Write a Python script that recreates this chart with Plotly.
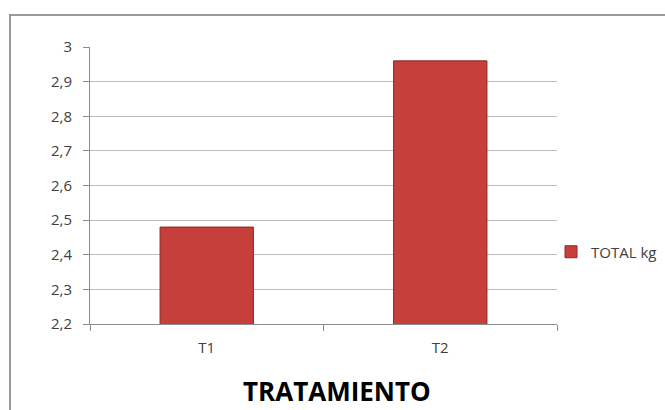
import plotly.graph_objects as go

categories = ["T1", "T2"]
values = [2.48, 2.96]
series_name = "TOTAL kg"
y_tickvals = [2.2, 2.3, 2.4, 2.5, 2.6, 2.7, 2.8, 2.9, 3.0]
y_ticktext = ["2,2", "2,3", "2,4", "2,5", "2,6", "2,7", "2,8", "2,9", "3"]
x_title = "TRATAMIENTO"

L, R, T, B = 90, 108, 47, 86
W, H = 665, 410
pw, ph = W - L - R, H - T - B

def px(x):
    return (x - L) / pw

def py(y):
    return (H - B - y) / ph

fig = go.Figure()
fig.add_trace(go.Bar(
    x=categories, y=values, name=series_name, showlegend=True,
    width=0.4,
    marker=dict(color="#c63f3b", line=dict(color="#8e2a27", width=1)),
))

fig.update_layout(
    width=W, height=H,
    margin=dict(l=L, r=R, t=T, b=B, pad=0, autoexpand=False),
    paper_bgcolor="white", plot_bgcolor="white",
    font=dict(family="Open Sans", size=14, color="#404040"),
    showlegend=True,
    legend=dict(xref="container", yref="container",
                x=551 / W, y=1 - 252 / H, xanchor="left", yanchor="middle",
                font=dict(size=15, color="#404040"), bgcolor="rgba(0,0,0,0)",
                itemwidth=30),
    xaxis=dict(showline=True, linecolor="#8c8c8c", linewidth=1,
               ticks="outside", tickson="boundaries", ticklen=6, tickcolor="#8c8c8c",
               ticklabelstandoff=10,
               showgrid=False, tickfont=dict(size=15, color="#404040")),
    yaxis=dict(range=[2.2, 3.0], tickvals=y_tickvals, ticktext=y_ticktext,
               showline=True, linecolor="#8c8c8c", linewidth=1,
               ticks="outside", ticklen=6, tickcolor="#8c8c8c",
               ticklabelstandoff=8,
               showgrid=True, gridcolor="#bdbdbd", gridwidth=1,
               zeroline=False, tickfont=dict(size=15, color="#404040")),
    shapes=[dict(type="rect", xref="paper", yref="paper",
                 x0=px(10), x1=px(700), y0=py(440), y1=py(15),
                 line=dict(color="#999999", width=2), layer="above")],
    annotations=[dict(text="<b>" + x_title + "</b>", xref="paper", yref="paper",
                      x=px(337), y=py(391), xanchor="center", yanchor="middle",
                      showarrow=False, font=dict(size=26, color="#000000", family="Open Sans"))],
)

fig.write_html("out.html")
